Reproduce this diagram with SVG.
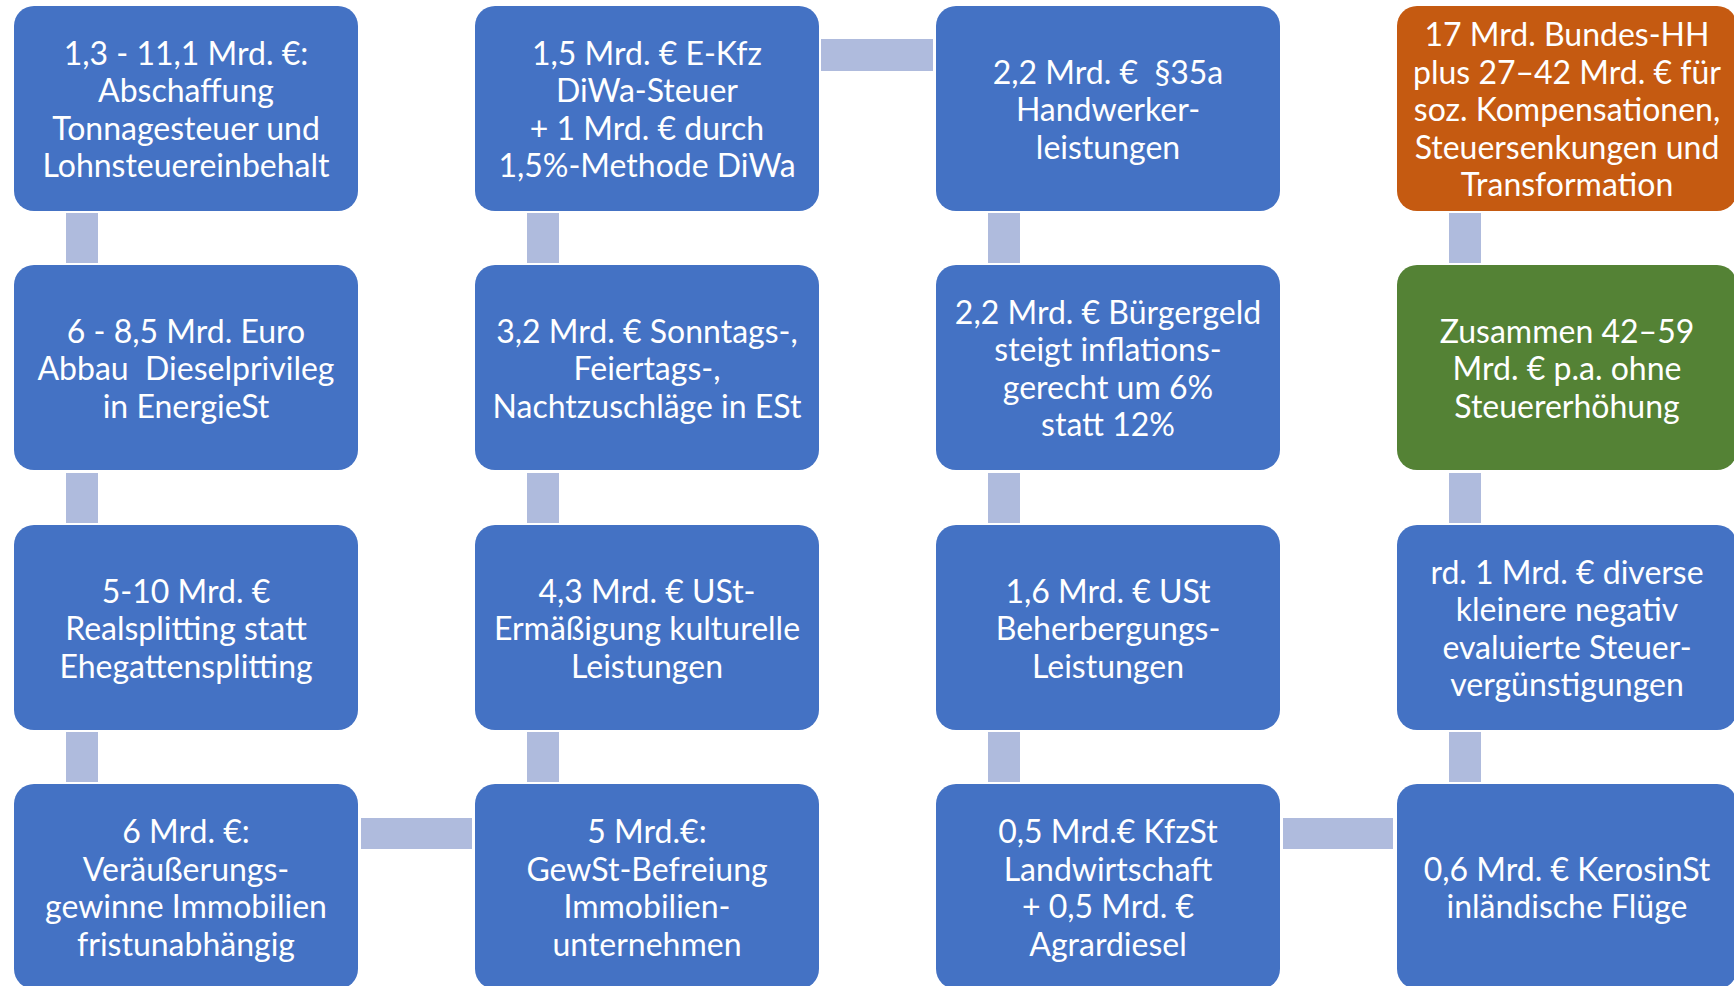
<svg xmlns="http://www.w3.org/2000/svg" width="1734" height="986" viewBox="0 0 1734 986">
<style>
.box{fill:#4472C4}
.orange{fill:#C55A11}
.green{fill:#548235}
.conn{fill:#AFBBDD}
text{font-family:Lato,"Open Sans","Liberation Sans",sans-serif;font-size:32px;fill:#FFFFFF;text-anchor:middle;white-space:pre}
</style>
<rect width="1734" height="986" fill="#FFFFFF"/>
<g id="connectors">
<rect class="conn" x="66" y="213" width="32" height="50"/>
<rect class="conn" x="66" y="473" width="32" height="50"/>
<rect class="conn" x="66" y="732" width="32" height="50"/>
<rect class="conn" x="527" y="213" width="32" height="50"/>
<rect class="conn" x="527" y="473" width="32" height="50"/>
<rect class="conn" x="527" y="732" width="32" height="50"/>
<rect class="conn" x="988" y="213" width="32" height="50"/>
<rect class="conn" x="988" y="473" width="32" height="50"/>
<rect class="conn" x="988" y="732" width="32" height="50"/>
<rect class="conn" x="1449" y="213" width="32" height="50"/>
<rect class="conn" x="1449" y="473" width="32" height="50"/>
<rect class="conn" x="1449" y="732" width="32" height="50"/>
<rect class="conn" x="821" y="39" width="112" height="32"/>
<rect class="conn" x="361" y="818" width="111" height="31"/>
<rect class="conn" x="1283" y="818" width="110" height="31"/>
</g>
<g id="n1"><rect class="box" x="14" y="6" width="344" height="205" rx="20"/>
<text x="186" y="65">1,3 - 11,1 Mrd. €:</text><text x="186" y="102">Abschaffung</text><text x="186" y="140">Tonnagesteuer und</text><text x="186" y="177">Lohnsteuereinbehalt</text></g>
<g id="n2"><rect class="box" x="14" y="265" width="344" height="205" rx="20"/>
<text x="186" y="343">6 - 8,5 Mrd. Euro</text><text x="186" y="380" xml:space="preserve">Abbau  Dieselprivileg</text><text x="186" y="418">in EnergieSt</text></g>
<g id="n3"><rect class="box" x="14" y="525" width="344" height="205" rx="20"/>
<text x="186" y="603">5-10 Mrd. €</text><text x="186" y="640">Realsplitting statt</text><text x="186" y="678">Ehegattensplitting</text></g>
<g id="n4"><rect class="box" x="14" y="784" width="344" height="205" rx="20"/>
<text x="186" y="843">6 Mrd. €:</text><text x="186" y="881">Veräußerungs-</text><text x="186" y="918">gewinne Immobilien</text><text x="186" y="956">fristunabhängig</text></g>
<g id="n5"><rect class="box" x="475" y="6" width="344" height="205" rx="20"/>
<text x="647" y="65">1,5 Mrd. € E-Kfz</text><text x="647" y="102">DiWa-Steuer</text><text x="647" y="140">+ 1 Mrd. € durch</text><text x="647" y="177">1,5%-Methode DiWa</text></g>
<g id="n6"><rect class="box" x="475" y="265" width="344" height="205" rx="20"/>
<text x="647" y="343">3,2 Mrd. € Sonntags-,</text><text x="647" y="380">Feiertags-,</text><text x="647" y="418">Nachtzuschläge in ESt</text></g>
<g id="n7"><rect class="box" x="475" y="525" width="344" height="205" rx="20"/>
<text x="647" y="603">4,3 Mrd. € USt-</text><text x="647" y="640">Ermäßigung kulturelle</text><text x="647" y="678">Leistungen</text></g>
<g id="n8"><rect class="box" x="475" y="784" width="344" height="205" rx="20"/>
<text x="647" y="843">5 Mrd.€:</text><text x="647" y="881">GewSt-Befreiung</text><text x="647" y="918">Immobilien-</text><text x="647" y="956">unternehmen</text></g>
<g id="n9"><rect class="box" x="936" y="6" width="344" height="205" rx="20"/>
<text x="1108" y="84" xml:space="preserve">2,2 Mrd. €  §35a</text><text x="1108" y="121">Handwerker-</text><text x="1108" y="159">leistungen</text></g>
<g id="n10"><rect class="box" x="936" y="265" width="344" height="205" rx="20"/>
<text x="1108" y="324">2,2 Mrd. € Bürgergeld</text><text x="1108" y="361">steigt inflations-</text><text x="1108" y="399">gerecht um 6%</text><text x="1108" y="436">statt 12%</text></g>
<g id="n11"><rect class="box" x="936" y="525" width="344" height="205" rx="20"/>
<text x="1108" y="603">1,6 Mrd. € USt</text><text x="1108" y="640">Beherbergungs-</text><text x="1108" y="678">Leistungen</text></g>
<g id="n12"><rect class="box" x="936" y="784" width="344" height="205" rx="20"/>
<text x="1108" y="843">0,5 Mrd.€ KfzSt</text><text x="1108" y="881">Landwirtschaft</text><text x="1108" y="918">+ 0,5 Mrd. €</text><text x="1108" y="956">Agrardiesel</text></g>
<g id="n13"><rect class="orange" x="1397" y="6" width="340" height="205" rx="20"/>
<text x="1567" y="46">17 Mrd. Bundes-HH</text><text x="1567" y="84">plus 27–42 Mrd. € für</text><text x="1567" y="121">soz. Kompensationen,</text><text x="1567" y="159">Steuersenkungen und</text><text x="1567" y="196">Transformation</text></g>
<g id="n14"><rect class="green" x="1397" y="265" width="340" height="205" rx="20"/>
<text x="1567" y="343">Zusammen 42–59</text><text x="1567" y="380">Mrd. € p.a. ohne</text><text x="1567" y="418">Steuererhöhung</text></g>
<g id="n15"><rect class="box" x="1397" y="525" width="340" height="205" rx="20"/>
<text x="1567" y="584">rd. 1 Mrd. € diverse</text><text x="1567" y="621">kleinere negativ</text><text x="1567" y="659">evaluierte Steuer-</text><text x="1567" y="696">vergünstigungen</text></g>
<g id="n16"><rect class="box" x="1397" y="784" width="340" height="205" rx="20"/>
<text x="1567" y="881">0,6 Mrd. € KerosinSt</text><text x="1567" y="918">inländische Flüge</text></g>
</svg>
